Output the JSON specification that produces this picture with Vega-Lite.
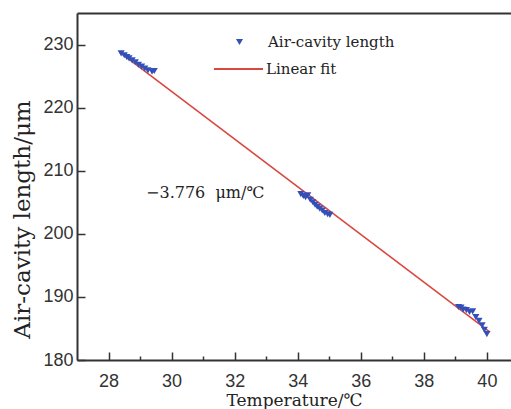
{
  "$schema": "https://vega.github.io/schema/vega-lite/v6.json",
  "autosize": {"type": "none"},
  "padding": {"left": 77, "top": 13, "right": 0, "bottom": 49},
  "width": 434,
  "height": 347,
  "background": "white",
  "config": {
    "view": {"stroke": null},
    "axis": {
      "domainColor": "#333333", "domainWidth": 2, "tickColor": "#333333", "tickWidth": 1.5,
      "labelFont": "Liberation Sans", "labelFontSize": 18, "labelColor": "#333333",
      "titleFont": "DejaVu Serif", "titleFontWeight": "normal", "titleColor": "#222222",
      "grid": false
    },
    "legend": {"labelFont": "DejaVu Serif", "labelFontSize": 15, "labelColor": "#222222", "padding": 0}
  },
  "datasets": {
    "pts": [
      {"t": 28.40, "len": 228.6}, {"t": 28.50, "len": 228.3}, {"t": 28.58, "len": 228.0}, {"t": 28.65, "len": 227.8},
      {"t": 28.75, "len": 227.5}, {"t": 28.85, "len": 227.2}, {"t": 28.95, "len": 226.8}, {"t": 29.05, "len": 226.5},
      {"t": 29.15, "len": 226.2}, {"t": 29.25, "len": 225.9}, {"t": 29.38, "len": 225.7}, {"t": 29.45, "len": 225.8},
      {"t": 34.10, "len": 206.3}, {"t": 34.18, "len": 206.0}, {"t": 34.25, "len": 205.8}, {"t": 34.32, "len": 206.1},
      {"t": 34.40, "len": 205.4}, {"t": 34.48, "len": 205.0}, {"t": 34.55, "len": 204.6}, {"t": 34.62, "len": 204.3},
      {"t": 34.70, "len": 204.0}, {"t": 34.78, "len": 203.7}, {"t": 34.86, "len": 203.3}, {"t": 34.95, "len": 203.1},
      {"t": 35.02, "len": 203.0},
      {"t": 39.10, "len": 188.4}, {"t": 39.18, "len": 188.3}, {"t": 39.25, "len": 188.0}, {"t": 39.35, "len": 187.9},
      {"t": 39.45, "len": 187.6}, {"t": 39.55, "len": 187.7}, {"t": 39.65, "len": 186.8}, {"t": 39.75, "len": 186.2},
      {"t": 39.85, "len": 185.5}, {"t": 39.92, "len": 184.8}, {"t": 40.00, "len": 184.1}
    ],
    "fit": [
      {"t": 28.35, "len": 228.8},
      {"t": 40.10, "len": 184.43}
    ],
    "note": [
      {"t": 29.19, "len": 205.6, "label": "−3.776\u00a0\u00a0μm/℃"}
    ]
  },
  "layer": [
    {
      "data": {"name": "fit"},
      "mark": {"type": "line", "strokeWidth": 1.6},
      "encoding": {
        "x": {"field": "t", "type": "quantitative", "scale": {"domain": [27, 40.765], "nice": false, "zero": false},
          "axis": {"values": [28, 29, 30, 31, 32, 33, 34, 35, 36, 37, 38, 39, 40],
            "labelExpr": "datum.value % 2 === 0 ? datum.label : ''",
            "tickSize": {"condition": {"test": "datum.value % 2 === 1", "value": -4}, "value": -8},
            "labelPadding": 20, "title": "Temperature/℃", "titleFontSize": 17, "titlePadding": 2}},
        "y": {"field": "len", "type": "quantitative", "scale": {"domain": [180, 235], "nice": false, "zero": false},
          "axis": {"values": [180, 185, 190, 195, 200, 205, 210, 215, 220, 225, 230],
            "labelExpr": "datum.value % 10 === 0 ? datum.label : ''",
            "tickSize": {"condition": {"test": "datum.value % 10 === 5", "value": -4}, "value": -8},
            "labelPadding": 12, "title": "Air-cavity length/μm", "titleFontSize": 23, "titlePadding": 8, "titleY": 206}},
        "color": {"datum": "Linear fit", "scale": {"range": ["#d9473f"]},
          "legend": {"title": null, "orient": "none", "legendX": 136, "legendY": 30.5,
            "symbolType": "stroke", "symbolSize": 2401, "symbolStrokeWidth": 1.8, "labelOffset": 2}}
      }
    },
    {
      "data": {"name": "pts"},
      "mark": {"type": "point", "filled": true, "color": "#3350b8", "size": 50, "opacity": 1},
      "encoding": {
        "x": {"field": "t", "type": "quantitative", "axis": null},
        "y": {"field": "len", "type": "quantitative"},
        "shape": {"datum": "Air-cavity length", "scale": {"range": ["triangle-down"]},
          "legend": {"title": null, "orient": "none", "legendX": 155, "legendY": 21.5,
            "symbolSize": 50, "symbolFillColor": "#3350b8", "symbolStrokeColor": "#3350b8", "labelOffset": 21}}
      }
    },
    {
      "data": {"name": "note"},
      "mark": {"type": "text", "font": "DejaVu Serif", "fontSize": 16, "color": "#222222", "align": "left", "baseline": "alphabetic"},
      "encoding": {
        "x": {"field": "t", "type": "quantitative",
          "axis": {"orient": "top", "values": [], "labels": false, "ticks": false, "title": null, "domainWidth": 2}},
        "y": {"field": "len", "type": "quantitative"},
        "text": {"field": "label"}
      }
    }
  ],
  "resolve": {"axis": {"x": "independent"}}
}
